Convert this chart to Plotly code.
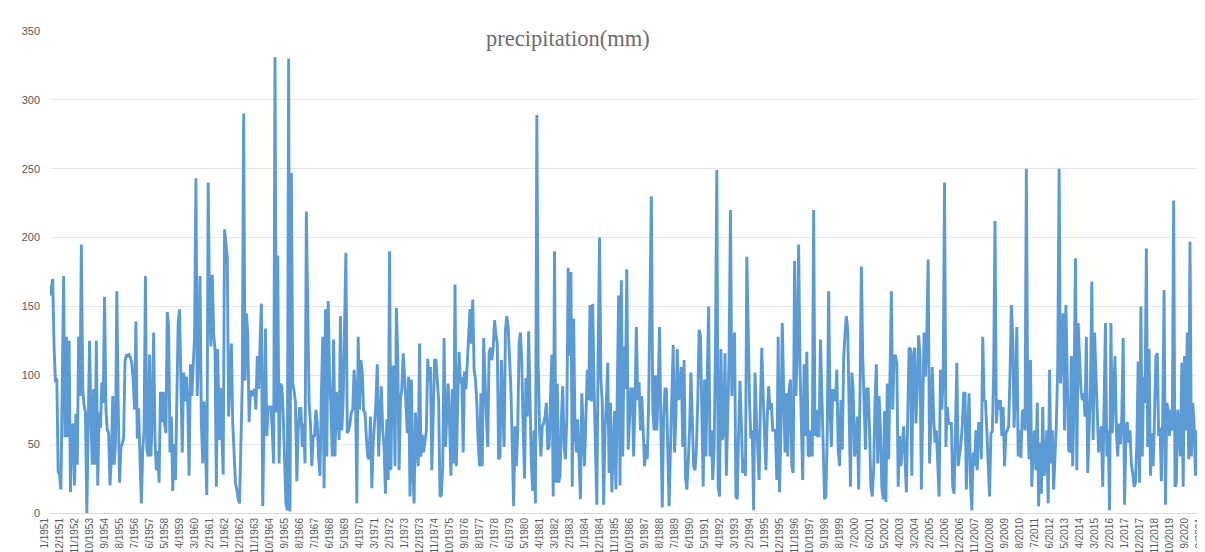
import plotly.graph_objects as go

# Monthly precipitation (mm), one row per year
p1951_1960 = [
    158, 165, 170, 120, 95, 98, 30, 28, 17, 95, 172, 55,
    128, 55, 125, 15, 60, 65, 20, 72, 35, 128, 85, 195,
    90, 78, 73, 0, 70, 125, 70, 35, 90, 35, 125, 20,
    73, 62, 95, 80, 157, 75, 60, 58, 20, 40, 85, 35,
    50, 161, 80, 22, 48, 50, 55, 110, 115, 114, 115, 113,
    108, 97, 75, 139, 54, 76, 40, 7, 46, 60, 172, 46,
    41, 115, 41, 70, 131, 53, 31, 45, 22, 88, 66, 88,
    65, 58, 146, 135, 44, 70, 16, 50, 24, 80, 138, 148,
    90, 44, 102, 81, 99, 80, 27, 108, 85, 108, 128, 243,
    85, 120, 172, 65, 36, 81, 50, 13, 240, 150, 121, 173,
]
p1961_1970 = [
    130, 119, 19, 119, 53, 91, 60, 28, 206, 195, 186, 70,
    91, 123, 65, 41, 22, 17, 10, 7, 50, 94, 290, 96,
    145, 131, 66, 89, 85, 88, 90, 75, 114, 90, 120, 152,
    5, 60, 134, 56, 77, 77, 77, 60, 36, 331, 73, 187,
    36, 94, 92, 73, 40, 7, 2, 330, 1, 247, 94, 89,
    80, 23, 60, 76, 76, 48, 65, 36, 219, 123, 80, 65,
    34, 56, 56, 75, 65, 40, 27, 85, 128, 18, 148, 41,
    154, 100, 77, 41, 126, 41, 88, 70, 53, 143, 60, 82,
    140, 189, 58, 60, 65, 73, 75, 104, 90, 7, 128, 75,
    111, 102, 74, 73, 55, 41, 39, 70, 18, 51, 65, 80,
]
p1971_1980 = [
    108, 41, 70, 92, 60, 48, 14, 68, 24, 190, 31, 106,
    106, 34, 149, 114, 31, 82, 90, 116, 100, 73, 58, 99,
    12, 97, 31, 7, 73, 50, 34, 123, 41, 57, 44, 52,
    60, 112, 95, 106, 31, 70, 111, 111, 95, 82, 12, 13,
    34, 127, 48, 70, 94, 65, 27, 90, 36, 166, 34, 80,
    117, 94, 99, 44, 103, 90, 114, 128, 148, 123, 155, 104,
    97, 80, 51, 34, 87, 34, 127, 92, 70, 48, 116, 120,
    111, 120, 140, 130, 123, 39, 41, 111, 80, 48, 133, 143,
    135, 114, 90, 48, 5, 63, 34, 60, 123, 131, 109, 60,
    25, 98, 70, 132, 80, 36, 16, 60, 7, 289, 109, 60,
]
p1981_1990 = [
    41, 63, 65, 70, 80, 46, 48, 85, 115, 12, 190, 22,
    94, 22, 27, 68, 92, 48, 39, 70, 178, 114, 175, 19,
    141, 60, 44, 68, 44, 10, 87, 58, 34, 70, 104, 82,
    151, 81, 152, 90, 40, 6, 120, 200, 97, 80, 6, 60,
    80, 109, 29, 80, 15, 50, 74, 17, 90, 158, 20, 169,
    41, 121, 90, 177, 46, 70, 90, 90, 41, 80, 135, 82,
    95, 60, 85, 60, 34, 50, 39, 80, 140, 230, 75, 60,
    100, 60, 90, 135, 60, 4, 70, 90, 90, 40, 5, 46,
    80, 122, 44, 70, 119, 82, 90, 106, 48, 111, 27, 17,
    36, 60, 102, 60, 34, 31, 46, 80, 133, 129, 60, 19,
]
p1991_2000 = [
    97, 41, 100, 150, 41, 60, 24, 45, 120, 249, 19, 12,
    119, 53, 60, 116, 27, 80, 114, 220, 85, 120, 131, 12,
    10, 60, 96, 65, 29, 40, 27, 186, 119, 80, 54, 60,
    2, 102, 70, 48, 24, 80, 120, 85, 60, 31, 70, 92,
    75, 80, 60, 60, 60, 24, 128, 15, 60, 138, 75, 44,
    87, 41, 90, 97, 34, 29, 183, 85, 120, 195, 106, 53,
    24, 108, 56, 117, 42, 41, 60, 41, 220, 56, 75, 56,
    56, 126, 80, 48, 10, 12, 60, 161, 77, 48, 90, 82,
    82, 104, 46, 34, 82, 46, 112, 130, 143, 133, 60, 19,
    102, 90, 41, 48, 70, 17, 87, 179, 114, 80, 46, 90,
]
p2001_2010 = [
    90, 60, 19, 12, 31, 80, 108, 36, 85, 60, 19, 10,
    74, 8, 94, 39, 94, 161, 75, 114, 114, 109, 19, 56,
    34, 50, 63, 40, 15, 70, 120, 119, 27, 114, 120, 65,
    90, 129, 114, 17, 75, 131, 99, 130, 184, 36, 65, 106,
    70, 51, 60, 34, 12, 104, 75, 99, 240, 48, 77, 65,
    65, 65, 19, 14, 60, 109, 34, 41, 50, 63, 87, 87,
    17, 60, 87, 22, 2, 44, 34, 60, 31, 65, 65, 39,
    128, 81, 82, 60, 39, 12, 58, 59, 100, 212, 65, 82,
    75, 82, 56, 77, 34, 58, 60, 63, 100, 151, 128, 62,
    90, 135, 41, 60, 40, 73, 75, 60, 250, 73, 39, 111,
]
p2011_2020 = [
    19, 48, 60, 31, 80, 5, 51, 14, 77, 27, 36, 60,
    7, 104, 36, 60, 17, 40, 65, 106, 250, 94, 114, 145,
    60, 151, 100, 46, 44, 114, 34, 90, 185, 31, 138, 111,
    90, 82, 87, 70, 128, 29, 60, 90, 168, 53, 131, 102,
    80, 44, 55, 63, 19, 73, 138, 41, 60, 2, 138, 58,
    90, 114, 60, 41, 65, 50, 70, 127, 6, 58, 66, 51,
    60, 35, 29, 19, 22, 50, 110, 22, 150, 41, 99, 80,
    192, 48, 119, 27, 58, 34, 70, 114, 116, 56, 62, 23,
    70, 162, 6, 80, 75, 56, 75, 60, 227, 19, 22, 75,
    60, 41, 109, 19, 114, 60, 131, 39, 197, 41, 80, 65,
]
p2021 = [27, 60, 45, 34, 24, 31, 27, 65]

start_year = 1951
tick_step = 11
title_text = "precipitation(mm)"
y_ticks = [0, 50, 100, 150, 200, 250, 300, 350]

values = p1951_1960 + p1961_1970 + p1971_1980 + p1981_1990 + p1991_2000 + p2001_2010 + p2011_2020 + p2021
labels = [f"{k % 12 + 1}/{start_year + k // 12}" for k in range(len(values))]
tick_labels = labels[::tick_step]

fig = go.Figure()
fig.add_trace(go.Scatter(
    x=labels, y=values, mode="lines",
    line=dict(color="#5B9BD5", width=2.9),
    hoverinfo="x+y", showlegend=False,
))

fig.add_annotation(
    text=title_text, xref="paper", yref="paper",
    x=0.4485, y=0.985, xanchor="center", yanchor="middle",
    showarrow=False,
    font=dict(family="Liberation Serif, DejaVu Serif, serif", size=22.5, color="#6b6b6b"),
)

fig.update_layout(
    template="none",
    width=1205, height=552, autosize=False,
    margin=dict(l=42, r=8, t=23, b=47, pad=0),
    paper_bgcolor="white", plot_bgcolor="white",
    font=dict(family="Liberation Sans, Arial, sans-serif", color="#595959"),
)
fig.update_xaxes(
    type="category", range=[0, len(values) - 1], automargin=False,
    tickmode="array", tickvals=tick_labels, ticktext=tick_labels,
    tickangle=-90, tickfont=dict(size=10, color="#595959"),
    ticklabelshift=-5,
    showgrid=False, showline=True, linecolor="#d9d9d9", linewidth=1,
    ticks="", zeroline=False,
)
fig.update_yaxes(
    range=[0, 350], tickmode="array", tickvals=y_ticks, automargin=False,
    tickfont=dict(size=11, color="#595959"),
    showgrid=True, gridcolor="#e6e6e6", gridwidth=1,
    zeroline=False, showline=False, ticks="", ticklabelstandoff=9,
)

fig.write_html("out.html")
